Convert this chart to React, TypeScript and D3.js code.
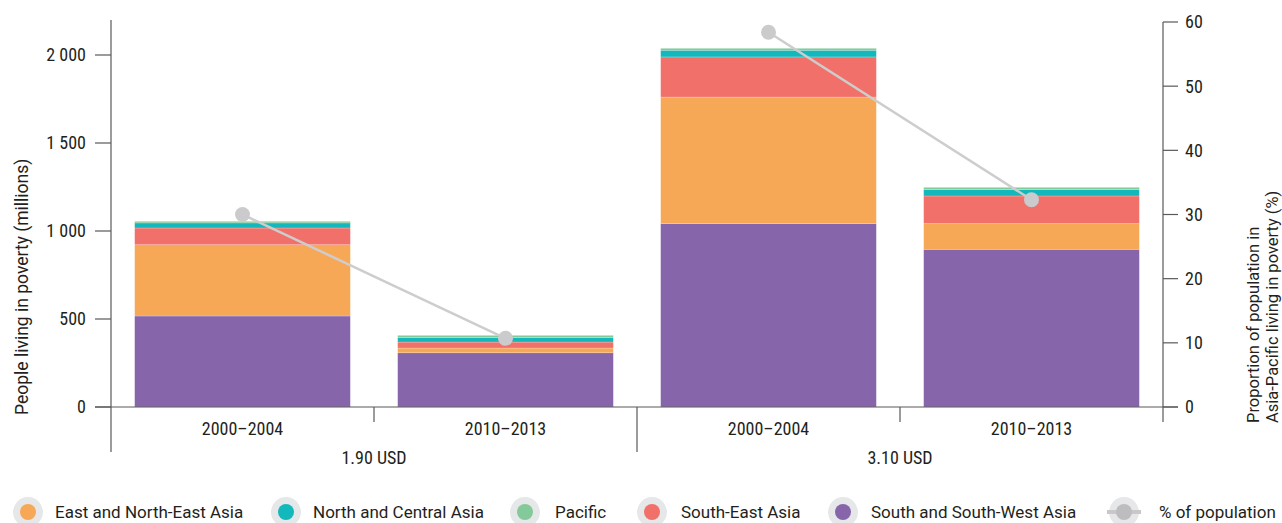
import React from "react";
import * as d3 from "d3";

// ---- Data ----
const periods = ["2000–2004", "2010–2013", "2000–2004", "2010–2013"];
const thresholds = ["1.90 USD", "3.10 USD"];

const southSouthWestAsia = [517, 308, 1042, 896];
const eastNorthEastAsia = [405, 27, 719, 146];
const southEastAsia = [95, 34, 228, 157];
const northCentralAsia = [29, 26, 38, 36];
const pacific = [9, 12, 11, 13];
const pctPopulation = [30.0, 10.7, 58.4, 32.3];

const leftTicks = [0, 500, 1000, 1500, 2000];
const rightTicks = [0, 10, 20, 30, 40, 50, 60];

const seriesNames = [
  "South and South-West Asia",
  "East and North-East Asia",
  "South-East Asia",
  "North and Central Asia",
  "Pacific",
];
const seriesValues = [southSouthWestAsia, eastNorthEastAsia, southEastAsia, northCentralAsia, pacific];
const seriesColors = ["#8765AB", "#F7A857", "#F1706A", "#12B8BC", "#84C99A"];

const legendNames = [
  "East and North-East Asia",
  "North and Central Asia",
  "Pacific",
  "South-East Asia",
  "South and South-West Asia",
  "% of population",
];
const legendColors = ["#F7A857", "#12B8BC", "#84C99A", "#F1706A", "#8765AB", "#BDBDBF"];

// ---- Layout ----
const W = 1282;
const H = 523;
const xLeft = 111;
const xRight = 1163;
const yBase = 407;
const axisColor = "#58595B";
const textColor = "#231F20";
const condensed = "'Roboto Condensed', 'Liberation Sans Narrow', Roboto, sans-serif";
const regular = "Roboto, 'Noto Sans', sans-serif";
const tickSize = 18;

const locale = d3.formatLocale({ decimal: ".", thousands: " ", grouping: [3], currency: ["", ""] });
const fmt = locale.format(",d");

export default function App() {
  const idx = periods.map((_, i) => String(i));
  const x = d3.scaleBand<string>().domain(idx).range([xLeft, xRight]).paddingInner(0.18).paddingOuter(0.09);
  const yL = d3.scaleLinear().domain([0, 2000]).range([yBase, 55]);
  const yR = d3.scaleLinear().domain([0, 60]).range([yBase, 22]);

  const rows = periods.map((p, i) => {
    const r: Record<string, number | string> = { key: String(i) };
    seriesNames.forEach((n, s) => (r[n] = seriesValues[s][i]));
    return r;
  });
  const stacked = d3.stack<any>().keys(seriesNames)(rows as any);

  const step = x.step();
  const groupBounds = [xLeft, xLeft + 2 * step, xRight];
  const innerTicks = [xLeft + step, xLeft + 3 * step];

  const legendX = [28, 286, 525, 652, 843, 1124];
  const legendTextX = [55, 313, 555, 681, 871, 1159];
  const legendY = 512;

  return (
    <svg width={W} height={H} style={{ position: "absolute", left: 0, top: 0, background: "#fff" }}>
      {/* bars */}
      {stacked.map((layer, s) => (
        <g key={s}>
          {layer.map((d, i) => (
            <rect
              key={i}
              x={x(String(i))}
              width={x.bandwidth()}
              y={yL(d[1])}
              height={Math.max(0, yL(d[0]) - yL(d[1]))}
              fill={seriesColors[s]}
              stroke="#ffffff"
              strokeOpacity={0.35}
              strokeWidth={0.6}
            />
          ))}
        </g>
      ))}

      {/* left axis */}
      <line x1={xLeft} x2={xLeft} y1={20} y2={452} stroke={axisColor} strokeWidth={1.2} />
      {leftTicks.map((t) => (
        <g key={t}>
          <line x1={95} x2={xLeft} y1={yL(t)} y2={yL(t)} stroke={axisColor} strokeWidth={1.2} />
          <text x={86} y={yL(t)} dy="0.36em" textAnchor="end" fontFamily={condensed} fontSize={tickSize} fill={textColor}>
            {fmt(t)}
          </text>
        </g>
      ))}

      {/* right axis */}
      <line x1={xRight} x2={xRight} y1={yR(60)} y2={422} stroke={axisColor} strokeWidth={1.2} />
      {rightTicks.map((t) => (
        <g key={t}>
          <line x1={xRight} x2={1178} y1={yR(t)} y2={yR(t)} stroke={axisColor} strokeWidth={1.2} />
          <text x={1185} y={yR(t)} dy="0.36em" textAnchor="start" fontFamily={condensed} fontSize={tickSize} fill={textColor}>
            {t}
          </text>
        </g>
      ))}

      {/* baseline */}
      <line x1={95} x2={1178} y1={yBase} y2={yBase} stroke={axisColor} strokeWidth={1.2} />
      {groupBounds.slice(1, 2).map((gx, i) => (
        <line key={i} x1={gx} x2={gx} y1={yBase} y2={452} stroke={axisColor} strokeWidth={1.2} />
      ))}
      {innerTicks.map((tx, i) => (
        <line key={i} x1={tx} x2={tx} y1={yBase} y2={422} stroke={axisColor} strokeWidth={1.2} />
      ))}

      {/* category labels */}
      {periods.map((p, i) => (
        <text
          key={i}
          x={(x(String(i)) as number) + x.bandwidth() / 2}
          y={435}
          textAnchor="middle"
          fontFamily={condensed}
          fontSize={tickSize}
          fill={textColor}
        >
          {p}
        </text>
      ))}
      {thresholds.map((t, g) => (
        <text
          key={t}
          x={(groupBounds[g] + groupBounds[g + 1]) / 2}
          y={464}
          textAnchor="middle"
          fontFamily={condensed}
          fontSize={tickSize}
          fill={textColor}
        >
          {t}
        </text>
      ))}

      {/* line series */}
      {[0, 1].map((g) => {
        const vals = pctPopulation.slice(g * 2, g * 2 + 2);
        const pts = vals.map((v, k) => [(x(String(g * 2 + k)) as number) + x.bandwidth() / 2, yR(v)] as [number, number]);
        return (
          <g key={g}>
            <path d={d3.line()(pts) as string} fill="none" stroke="#CDCDCD" strokeWidth={2.5} />
            {pts.map((p, k) => (
              <circle key={k} cx={p[0]} cy={p[1]} r={7.5} fill="#CBCBCD" />
            ))}
          </g>
        );
      })}

      {/* axis titles */}
      <text transform={`translate(28,415) rotate(-90)`} textAnchor="start" fontFamily={regular} fontSize={17.5} fill={textColor}>
        People living in poverty (millions)
      </text>
      <text transform={`translate(1259,423) rotate(-90)`} textAnchor="start" fontFamily={regular} fontSize={16.5} fill={textColor}>
        Proportion of population in
      </text>
      <text transform={`translate(1278,423) rotate(-90)`} textAnchor="start" fontFamily={regular} fontSize={16.5} fill={textColor}>
        Asia-Pacific living in poverty (%)
      </text>

      {/* legend */}
      {legendNames.map((n, i) => (
        <g key={n}>
          <g transform={`translate(${legendX[i]},${legendY})`}>
            <circle r={15} fill="#E6E7E8" />
            {i === legendNames.length - 1 && (
              <line x1={-17} x2={17} y1={0} y2={0} stroke="#C8C8CA" strokeWidth={4} />
            )}
            <circle r={8} fill={legendColors[i]} />
          </g>
          <text x={legendTextX[i]} y={legendY + 6} fontFamily={regular} fontSize={17} fill={textColor}>
            {n}
          </text>
        </g>
      ))}
    </svg>
  );
}
